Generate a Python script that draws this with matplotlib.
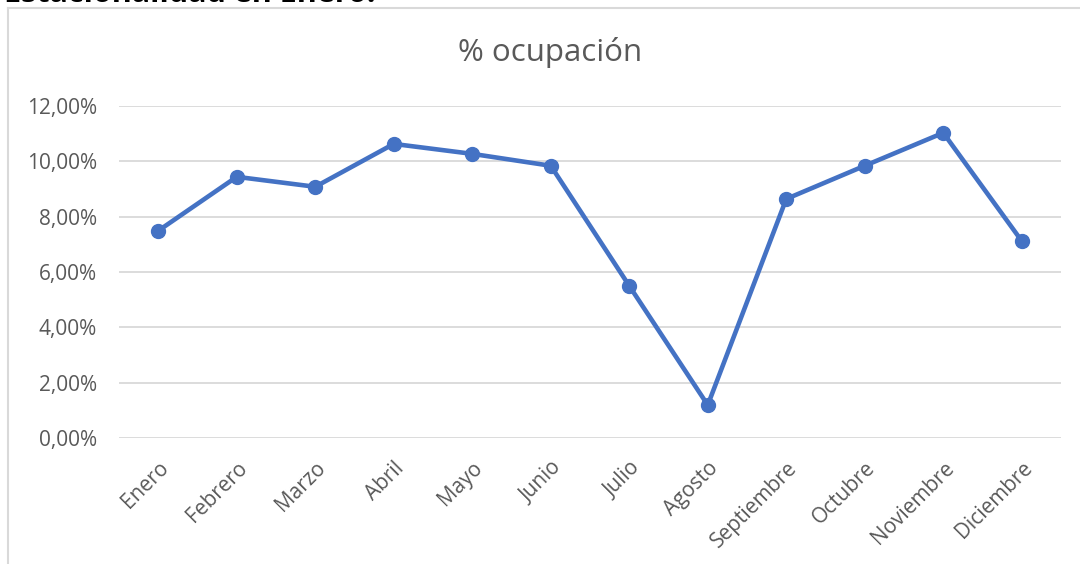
import matplotlib
matplotlib.use('Agg')
import matplotlib.pyplot as plt
from matplotlib.lines import Line2D
from matplotlib.ticker import FuncFormatter

meses = ['Enero', 'Febrero', 'Marzo', 'Abril', 'Mayo', 'Junio', 'Julio',
         'Agosto', 'Septiembre', 'Octubre', 'Noviembre', 'Diciembre']
ocupacion = [0.0749, 0.0944, 0.0908, 0.1063, 0.1027, 0.0984, 0.0550,
             0.0119, 0.0864, 0.0984, 0.1103, 0.0712]
y_ticks = [0.0, 0.02, 0.04, 0.06, 0.08, 0.10, 0.12]

plt.rcParams['font.family'] = ['Open Sans', 'DejaVu Sans']

fig = plt.figure(figsize=(10.8, 5.64), dpi=100)
ax = fig.add_axes([119 / 1080, 1 - 438 / 564, (1061 - 119) / 1080, (438 - 106) / 564])

x = list(range(len(meses)))
ax.plot(x, ocupacion, color='#4472C4', lw=3.3, marker='o', ms=10, zorder=3,
        solid_capstyle='round')

ax.set_xlim(-0.5, len(meses) - 0.5)
ax.set_ylim(0, 0.12)
ax.set_yticks(y_ticks)
ax.yaxis.set_major_formatter(FuncFormatter(lambda v, p: f'{v * 100:.2f}%'.replace('.', ',')))
ax.grid(axis='y', color='#D9D9D9', lw=1.3)
ax.set_axisbelow(True)
for s in ax.spines.values():
    s.set_visible(False)
ax.tick_params(axis='both', length=0, colors='#595959', labelsize=15)
ax.tick_params(axis='y', pad=16)
ax.set_xticks(x)
ax.set_xticklabels(meses, rotation=45, ha='right', va='top', rotation_mode='anchor')
ax.tick_params(axis='x', pad=14)

fig.text(550 / 1080, 1 - 52 / 564, '% ocupación', fontsize=22.5, color='#595959',
         ha='center', va='center')

# marco del grafico
fig.add_artist(Line2D([8 / 1080, 8 / 1080], [0, 1 - 8 / 564], color='#D9D9D9', lw=1.5))
fig.add_artist(Line2D([8 / 1080, 1], [1 - 8 / 564, 1 - 8 / 564], color='#D9D9D9', lw=1.5))

# encabezado recortado (asi aparece en la captura)
fig.text(0.004, 1 - 2 / 564, 'Estacionalidad en Enero.', fontsize=22, fontweight='bold',
         color='black', va='baseline', ha='left')

fig.savefig('out.png', dpi=100)
